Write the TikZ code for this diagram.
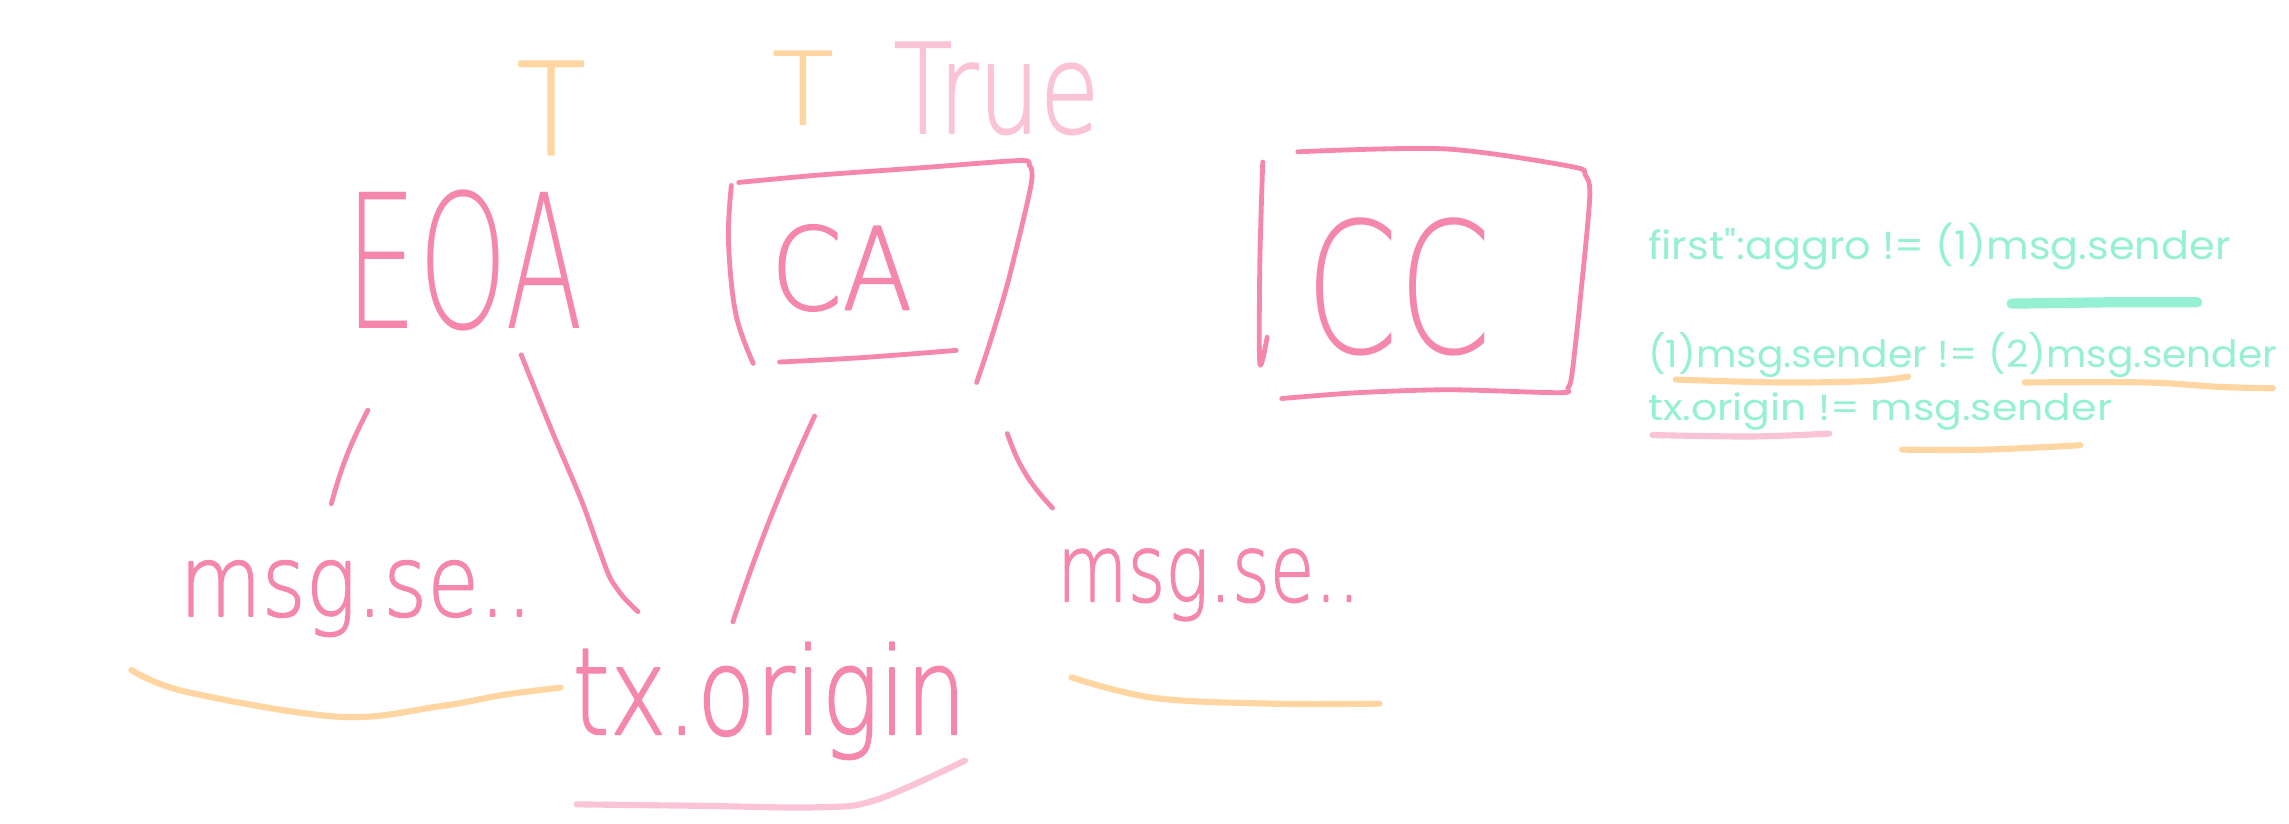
\documentclass[tikz,border=0pt]{standalone}
\usepackage{fontspec}
\setmainfont{Poppins}[Ligatures=TeXOff]
\newfontfamily\handfont{DejaVu Sans ExtraLight}
\newfontfamily\handfontb[FakeBold=1.5]{DejaVu Sans ExtraLight}
\newlength\un
\setlength\un{0.025cm}
\definecolor{pk}{RGB}{246,135,172}
\definecolor{lpk}{RGB}{251,195,215}
\definecolor{org}{RGB}{255,214,162}
\definecolor{grn}{RGB}{150,241,212}
\newcommand\fitbox[3]{\resizebox{#1\un}{#2\un}{#3}}
\begin{document}
\begin{tikzpicture}[x=0.025cm,y=-0.025cm,line cap=round,line join=round,
  hw/.style={anchor=base west,inner sep=0pt,outer sep=0pt},
  pkline/.style={draw=pk,line width=3.3\un},
  orline/.style={draw=org,line width=4.2\un},
  lpline/.style={draw=lpk,line width=4.2\un},
  gnline/.style={draw=grn,line width=7\un}]
\useasboundingbox[fill=white] (0,0) rectangle (1568,564);

% labels on top
\node[hw,text=org] (t1) at (354,106) {\handfontb\fitbox{47}{64}{T}};
\node[hw,text=org] (t2) at (529,85) {\handfontb\fitbox{42}{50}{T}};
\node[hw,text=lpk] (true) at (612,91) {\handfontb\fitbox{141}{62}{True}};

% main words
\node[hw,text=pk] (eoa) at (237,225) {\handfont\fitbox{163}{95}{EOA}};
\node[hw,text=pk] (ca) at (528,212) {\handfontb\fitbox{97}{58}{CA}};
\node[hw,text=pk] (cc) at (894,242) {\handfont\fitbox{128}{93}{CC}};
\node[hw,text=pk] (ms1) at (123,422) {\handfontb\fitbox{242}{38}{msg.se..}};
\node[hw,text=pk] (tx) at (392,503) {\handfontb\fitbox{270}{63}{tx.origin}};
\node[hw,text=pk] (ms2) at (724,412) {\handfontb\fitbox{208}{36}{msg.se..}};

% green notes
\node[hw,text=grn] (g1) at (1129,178) {\fitbox{399}{25}{first":aggro != (1)msg.sender}};
\node[hw,text=grn] (g2) at (1129,252) {\fitbox{431}{24}{(1)msg.sender != (2)msg.sender}};
\node[hw,text=grn] (g3) at (1129,288) {\fitbox{318}{19}{tx.origin != msg.sender}};

% CA box
\draw[pkline] plot[smooth,tension=0.5] coordinates {(506,125) (560,120) (630,115) (698,110) (705,113) (707,121) (703,142) (690,195) (678,235) (669,262)};
\draw[pkline] plot[smooth,tension=0.6] coordinates {(501,127) (499,165) (504,215) (516,249)};
\draw[pkline] plot[smooth,tension=0.6] coordinates {(534,248) (590,245) (655,240)};

% CC box
\draw[pkline] plot[smooth,tension=0.5] coordinates {(865,111) (863,180) (863,249) (868,231)};
\draw[pkline] plot[smooth,tension=0.5] coordinates {(889,104) (990,102) (1076,114) (1086,120) (1089,135) (1083,200) (1077,255) (1074,266) (1068,269) (993,267) (930,269) (878,273)};

% connectors
\coordinate (eoaLa) at (252,281); \coordinate (eoaLb) at (227,345);
\coordinate (eoaRa) at (357,243); \coordinate (eoaRb) at (437,419);
\coordinate (caLa) at (558,285);  \coordinate (caLb) at (502,426);
\coordinate (caRa) at (690,297);  \coordinate (caRb) at (721,348);
\draw[pkline] (eoaLa) to[bend right=6] (eoaLb);
\draw[pkline] plot[smooth,tension=0.5] coordinates {(eoaRa) (378,295) (398,342) (411,378) (418,396) (427,409) (eoaRb)};
\draw[pkline] (caLa) to[bend right=3] (caLb);
\draw[pkline] (caRa) to[bend right=12] (caRb);

% underlines
\draw[orline] plot[smooth,tension=0.6] coordinates {(90,459) (128,474) (232,491) (300,484) (345,476) (384,471)};
\draw[lpline] plot[smooth,tension=0.6] coordinates {(395,551) (480,552) (560,553) (600,548) (661,521)};
\draw[orline] plot[smooth,tension=0.6] coordinates {(734,464) (790,478) (870,482) (945,482)};
\draw[gnline] (1378,208) -- (1450,207) -- (1505,207);
\draw[orline] plot[smooth,tension=0.6] coordinates {(1148,260) (1220,262) (1280,261) (1307,258)};
\draw[orline] plot[smooth,tension=0.6] coordinates {(1387,262) (1470,262) (1520,265) (1557,266)};
\draw[lpline] plot[smooth,tension=0.6] coordinates {(1132,298) (1200,299) (1253,297)};
\draw[orline] plot[smooth,tension=0.6] coordinates {(1303,308) (1360,308) (1425,305)};
\end{tikzpicture}
\end{document}
